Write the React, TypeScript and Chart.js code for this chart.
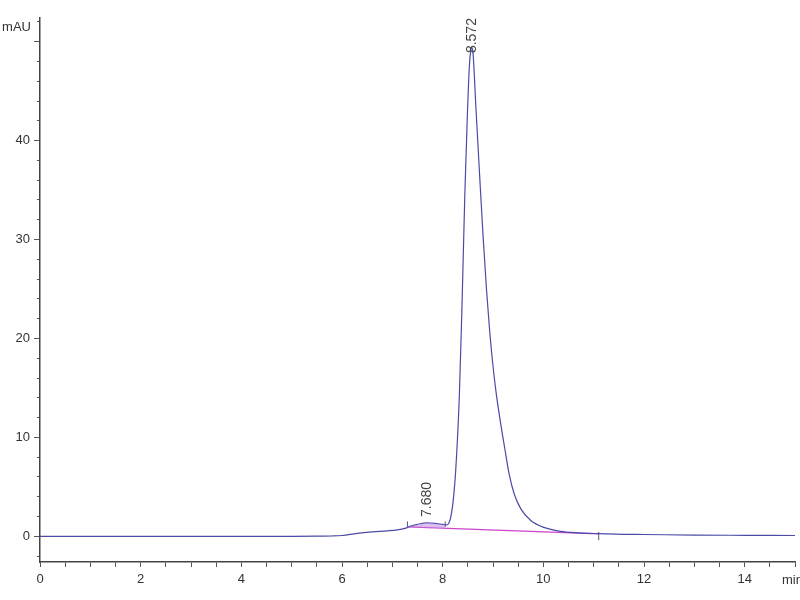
import React, { useEffect, useRef } from "react";
import { Chart, registerables } from "chart.js";

Chart.register(...registerables);

// Chromatogram trace (min, mAU)
const time = [
  0, 1, 2, 3, 4, 5, 5.5, 5.8, 6.0, 6.3, 6.6, 6.9, 7.1, 7.25, 7.35, 7.5, 7.68, 7.85, 8.0, 8.08,
  8.12, 8.16, 8.2, 8.24, 8.28, 8.33, 8.38, 8.44, 8.49, 8.53, 8.555, 8.575, 8.6, 8.66, 8.73, 8.8,
  8.87, 8.93, 8.99, 9.06, 9.14, 9.23, 9.32, 9.42, 9.55, 9.75, 10.01, 10.34, 10.7, 11.1,
  11.6, 12, 13, 14, 15,
];
const absorbance = [
  0, 0, 0, 0, 0, 0, 0.01, 0.03, 0.08, 0.3, 0.45, 0.55, 0.65, 0.8, 1.0, 1.2, 1.35, 1.3, 1.2, 1.15,
  1.3, 1.9, 3.2, 5.3, 8.5, 14.0, 22.5, 34.5, 42.5, 47.5, 49.0, 49.4, 49.0, 43.4, 36.9, 30.6,
  25.0, 21.0, 17.7, 14.6, 11.8, 9.0, 6.3, 4.3, 2.8, 1.6, 0.9, 0.5, 0.35, 0.27,
  0.2, 0.18, 0.12, 0.1, 0.08,
];

// Integration baseline (pink) and the filled minor peak
const baselineTime = [7.3, 11.1];
const baselineValue = [0.95, 0.25];
const minorPeakTime = [7.3, 7.35, 7.5, 7.68, 7.85, 8.0, 8.05];
const minorPeakValue = [0.95, 1.0, 1.2, 1.35, 1.3, 1.2, 1.15];

// Integration event markers (small vertical ticks)
const markerTimes = [7.3, 8.05, 11.1];
const markerLow = [0.95, 0.95, -0.4];
const markerHigh = [1.5, 1.5, 0.43];

// Peak retention-time labels
const peakTimes = [7.68, 8.572];
const peakLabels = ["7.680", "8.572"];
const peakLabelBase = [1.95, 48.85];

// Axis tick labels
const xTickLabels = [0, 2, 4, 6, 8, 10, 12, 14];
const yTickLabels = [0, 10, 20, 30, 40];

const FONT = "'Liberation Sans Narrow', 'Liberation Sans', Arial, sans-serif";

const textPlugin = {
  id: "chromText",
  afterDraw(chart: any) {
    const ctx = chart.ctx;
    const xs = chart.scales.x;
    const ys = chart.scales.y;
    ctx.save();
    ctx.fillStyle = "#444";
    ctx.textBaseline = "middle";
    peakTimes.forEach((t, i) => {
      const px = xs.getPixelForValue(t) + 1;
      const py = ys.getPixelForValue(peakLabelBase[i]);
      ctx.save();
      ctx.translate(px, py);
      ctx.rotate(-Math.PI / 2);
      ctx.textAlign = "left";
      ctx.font = `14px ${FONT}`;
      ctx.fillText(peakLabels[i], 0, 0);
      ctx.restore();
    });
    ctx.fillStyle = "#333";
    ctx.font = `13px ${FONT}`;
    ctx.textAlign = "right";
    ctx.fillText("mAU", chart.chartArea.left - 9, 27);
    ctx.textAlign = "left";
    ctx.fillText("min", 782, 580);
    ctx.restore();
  },
};

export default function App() {
  const ref = useRef<HTMLCanvasElement>(null);
  useEffect(() => {
    if (!ref.current) return;
    const main = "#4b4ba6";
    const pink = "#cc44cc";
    const markerSets = markerTimes.map((t, i) => ({
      data: [
        { x: t, y: markerLow[i] },
        { x: t, y: markerHigh[i] },
      ],
      borderColor: "#555577",
      borderWidth: 1,
      pointRadius: 0,
      fill: false,
    }));
    const chart = new Chart(ref.current, {
      type: "line",
      data: {
        datasets: [
          {
            data: minorPeakTime.map((t, i) => ({ x: t, y: minorPeakValue[i] })),
            borderWidth: 0,
            borderColor: "rgba(0,0,0,0)",
            backgroundColor: "rgba(190,140,230,0.55)",
            pointRadius: 0,
            fill: { target: 2 },
          },
          {
            data: time.map((t, i) => ({ x: t, y: absorbance[i] })),
            borderColor: main,
            borderWidth: 1.2,
            pointRadius: 0,
            cubicInterpolationMode: "monotone",
            fill: false,
          },
          {
            data: baselineTime.map((t, i) => ({ x: t, y: baselineValue[i] })),
            borderColor: pink,
            borderWidth: 1.3,
            pointRadius: 0,
            fill: false,
          },
          ...markerSets,
        ] as any,
      },
      options: {
        animation: false,
        responsive: false,
        layout: { padding: { left: 0, top: 18, right: 1, bottom: 0 } },
        plugins: { legend: { display: false }, tooltip: { enabled: false } },
        scales: {
          x: {
            type: "linear",
            min: 0,
            max: 15,
            border: { display: true, color: "#444", width: 1.5 },
            grid: { display: true, drawOnChartArea: false, tickLength: 5, color: "#555" },
            ticks: {
              stepSize: 0.5,
              autoSkip: false,
              maxRotation: 0,
              padding: 5,
              color: "#333",
              font: { family: FONT, size: 13 },
              callback: (v: any) => (xTickLabels.includes(Number(v)) ? String(v) : ""),
            },
            afterFit: (s: any) => {
              s.height = 38;
            },
          },
          y: {
            type: "linear",
            min: -2.6,
            max: 52.4,
            weight: 2,
            border: { display: true, color: "#444", width: 1.5 },
            grid: { display: true, drawOnChartArea: false, tickLength: 6, color: "#555" },
            ticks: {
              stepSize: 10,
              includeBounds: false,
              padding: 4,
              color: "#333",
              font: { family: FONT, size: 13 },
              callback: (v: any) => (yTickLabels.includes(Number(v)) ? String(v) : ""),
            },
            afterFit: (s: any) => {
              s.width = 40;
            },
          },
          yMinor: {
            axis: "y",
            type: "linear",
            position: "left",
            min: -2.6,
            max: 52.4,
            weight: 0,
            border: { display: false },
            grid: { display: true, drawOnChartArea: false, tickLength: 3, color: "#555" },
            ticks: {
              stepSize: 2,
              includeBounds: false,
              display: true,
              callback: () => "",
            },
            afterFit: (s: any) => {
              s.width = 0;
            },
          },
        },
      } as any,
      plugins: [textPlugin],
    });
    return () => chart.destroy();
  }, []);
  return (
    <div style={{ position: "fixed", left: 0, top: 0, width: 800, height: 600, background: "#fff" }}>
      <canvas ref={ref} width={800} height={600} />
    </div>
  );
}
